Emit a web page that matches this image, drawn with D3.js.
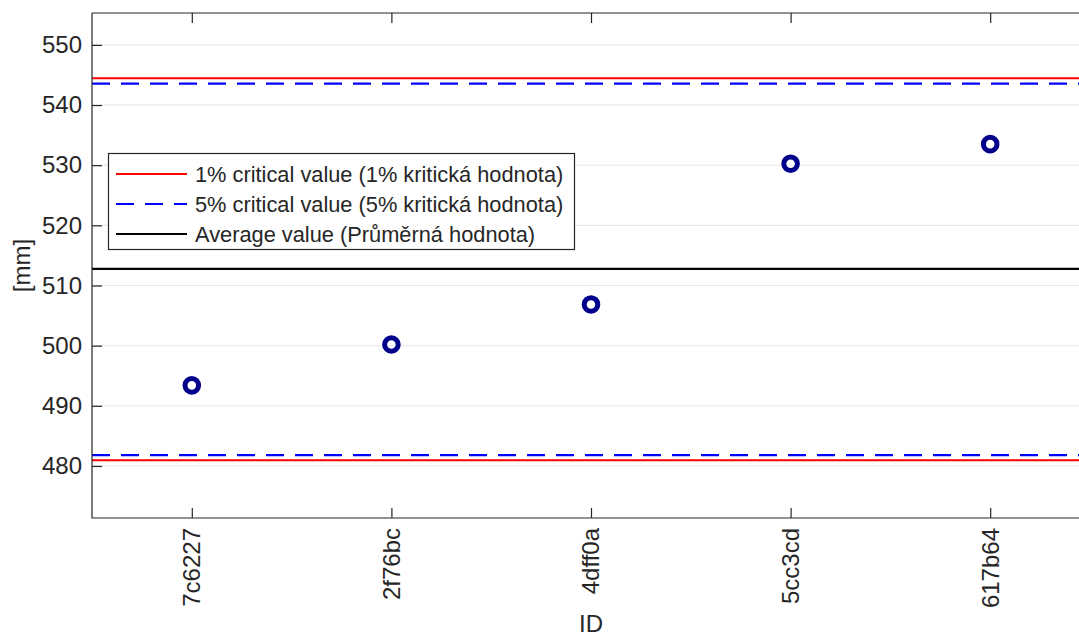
<!DOCTYPE html>
<html><head><meta charset="utf-8">
<script src="https://cdn.jsdelivr.net/npm/d3@7"></script>
<style>
html,body{margin:0;padding:0;background:#fff;overflow:hidden}
text{font-family:"Liberation Sans",Arial,sans-serif;fill:#262626}
</style></head>
<body><svg id="c" width="1079" height="637"></svg>
<script>
const ids = ["7c6227","2f76bc","4dff0a","5cc3cd","617b64"];
const values = [493.4, 500.2, 506.85, 530.25, 533.5];
const average = 512.75;
const crit1 = [480.95, 544.45];
const crit5 = [481.8, 543.55];
const yTicks = [480, 490, 500, 510, 520, 530, 540, 550];
const yDomain = [471.35, 555.3];
const legendLabels = ["1% critical value (1% kritická hodnota)", "5% critical value (5% kritická hodnota)", "Average value (Průměrná hodnota)"];

const W = 1079, H = 637;
const m = {left: 92, top: 13, right: 1090, bottom: 518};
const svg = d3.select("#c");
const x = d3.scaleLinear().domain([0.5, ids.length + 0.5]).range([m.left, m.right]);
const y = d3.scaleLinear().domain(yDomain).range([m.bottom, m.top]);

svg.append("defs").append("clipPath").attr("id","clip")
  .append("rect").attr("x", m.left).attr("y", m.top).attr("width", m.right - m.left).attr("height", m.bottom - m.top);

// grid
svg.append("g").selectAll("line").data(yTicks).join("line")
  .attr("x1", m.left).attr("x2", m.right).attr("y1", d => y(d)).attr("y2", d => y(d))
  .attr("stroke", "#e6e6e6").attr("stroke-width", 1);

const plot = svg.append("g").attr("clip-path", "url(#clip)");
const hline = (v, color, dash) => plot.append("line")
  .attr("x1", m.left).attr("x2", m.right).attr("y1", y(v)).attr("y2", y(v))
  .attr("stroke", color).attr("stroke-width", 2.2).attr("stroke-dasharray", dash || null);
crit1.forEach(v => hline(v, "#ff0000"));
crit5.forEach(v => hline(v, "#0000ff", "18,11"));
hline(average, "#000000");

// points
plot.selectAll("circle").data(values).join("circle")
  .attr("cx", (d, i) => x(i + 1)).attr("cy", d => y(d)).attr("r", 6.8)
  .attr("fill", "none").attr("stroke", "#00008b").attr("stroke-width", 5);

// axes
const ax = svg.append("g");
ax.append("path").attr("d", `M${m.left},${m.top}H${m.right}M${m.left},${m.top}V${m.bottom}H${m.right}`)
  .attr("fill", "none").attr("stroke", "#262626").attr("stroke-width", 1.2);
// y ticks
const yg = svg.append("g").attr("transform", `translate(${m.left},0)`)
  .call(d3.axisLeft(y).tickValues(yTicks).tickSize(-10).tickPadding(10).tickFormat(d3.format("d")));
yg.select(".domain").remove();
yg.selectAll("line").attr("stroke", "#262626").attr("stroke-width", 1.2);
yg.selectAll("text").attr("font-size", 24).attr("fill", "#262626").style("font-family", '"Liberation Sans",Arial,sans-serif');

// x ticks (bottom and top)
const tickVals = ids.map((d, i) => i + 1);
const xg = svg.append("g").attr("transform", `translate(0,${m.bottom})`)
  .call(d3.axisBottom(x).tickValues(tickVals).tickSize(-10).tickFormat(""));
xg.select(".domain").remove();
xg.selectAll("line").attr("stroke", "#262626").attr("stroke-width", 1.2);
const xt = svg.append("g").attr("transform", `translate(0,${m.top})`)
  .call(d3.axisTop(x).tickValues(tickVals).tickSize(-10).tickFormat(""));
xt.select(".domain").remove();
xt.selectAll("line").attr("stroke", "#262626").attr("stroke-width", 1.2);

svg.append("g").selectAll("text").data(ids).join("text")
  .attr("transform", (d, i) => `translate(${x(i + 1)},${m.bottom + 10}) rotate(-90)`)
  .attr("text-anchor", "end").attr("dy", "0.35em").attr("font-size", 24).text(d => d);

// axis labels
svg.append("text").attr("transform", `translate(30,${(m.top + m.bottom) / 2}) rotate(-90)`)
  .attr("text-anchor", "middle").attr("font-size", 24).text("[mm]");
svg.append("text").attr("x", (m.left + m.right) / 2).attr("y", 632)
  .attr("text-anchor", "middle").attr("font-size", 24).text("ID");

// legend
const lg = svg.append("g");
lg.append("rect").attr("x", 108.5).attr("y", 153.5).attr("width", 466).attr("height", 96)
  .attr("fill", "#fff").attr("stroke", "#262626").attr("stroke-width", 1.2);
const lstyles = [["#ff0000", null], ["#0000ff", "18,11"], ["#000000", null]];
legendLabels.forEach((t, i) => {
  const yy = 174 + i * 30;
  lg.append("line").attr("x1", 116).attr("x2", 187).attr("y1", yy).attr("y2", yy)
    .attr("stroke", lstyles[i][0]).attr("stroke-width", 2).attr("stroke-dasharray", lstyles[i][1]);
  lg.append("text").attr("x", 195).attr("y", yy).attr("dy", "0.35em").attr("font-size", 21.8).text(t);
});
</script></body></html>
